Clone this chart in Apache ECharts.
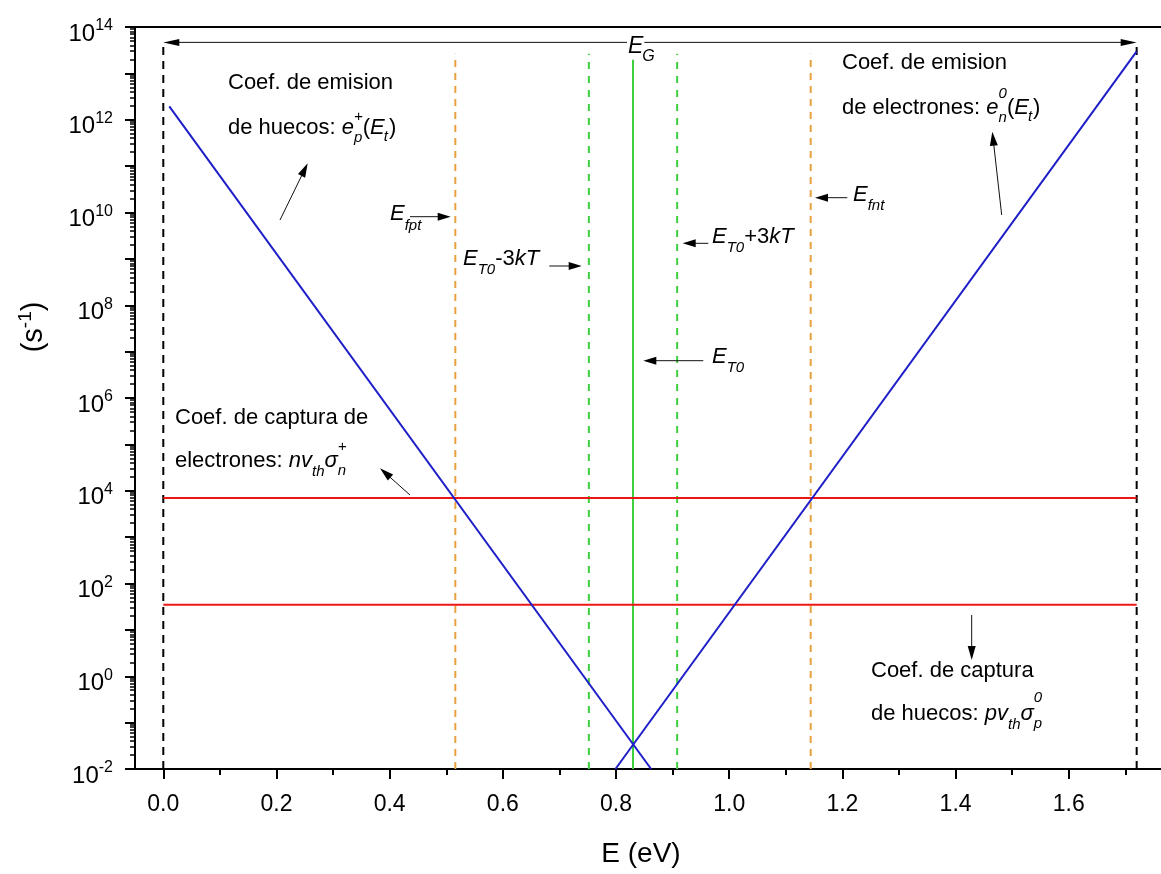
<!DOCTYPE html>
<html><head><meta charset="utf-8">
<script src="https://cdn.jsdelivr.net/npm/echarts@6/dist/echarts.min.js"></script>
<style>html,body{margin:0;padding:0;background:#fff}#c{width:1161px;height:874px}</style>
</head><body><div id="c"></div>
<script>
// ---------- data ----------
const xTicksMajor = [0, 0.2, 0.4, 0.6, 0.8, 1.0, 1.2, 1.4, 1.6];
const xTicksMinor = [0.1, 0.3, 0.5, 0.7, 0.9, 1.1, 1.3, 1.5, 1.7];
const yDecadeExps = [-2, -1, 0, 1, 2, 3, 4, 5, 6, 7, 8, 9, 10, 11, 12, 13, 14];
const yLabelExps = [-2, 0, 2, 4, 6, 8, 10, 12, 14];

const emisionHuecosE = [0.0106, 0.862];          // eV
const emisionHuecosR = [1.95e12, 1e-2];          // s^-1
const emisionElectronesE = [0.799, 1.72];
const emisionElectronesR = [1e-2, 2.97e13];
const capturaElectrones = 7.0e3;                 // n v_th sigma_n^+
const capturaHuecos = 35;                        // p v_th sigma_p^0
const bandEdges = [0, 1.72];                     // E_v, E_c  (E_G)
const fermiLevels = [0.516, 1.144];              // E_fpt, E_fnt
const trapBand = [0.752, 0.908];                 // E_T0 -/+ 3kT
const trapLevel = [0.83];                        // E_T0
const yBottom = 1e-2;
const egArrowLevel = 4.66e13;
const dashTopLevel = 2.65e13;
const trapTopLevel = 1.97e13;

const FONT = '"Liberation Sans", Arial, sans-serif';
const X_MIN = -0.05, X_MAX = 1.763;

function vline(e, top) { return [[e, yBottom], [e, top]]; }
function lineSeries(name, data, color, width, type, z) {
  return { name, type: 'line', xAxisIndex: 0, yAxisIndex: 0, data, showSymbol: false, symbol: 'none',
    lineStyle: { color, width, type }, z: z || 2, silent: true };
}

const series = [];
bandEdges.forEach((e, i) => series.push(lineSeries('band' + i, vline(e, egArrowLevel), '#000', 2, [8, 6], 1)));
fermiLevels.forEach((e, i) => series.push(lineSeries('fermi' + i, vline(e, dashTopLevel), '#E8A040', 2, [7, 6], 1)));
trapBand.forEach((e, i) => series.push(lineSeries('trapband' + i, vline(e, dashTopLevel), '#3DCF3D', 2, [7, 7], 1)));
trapLevel.forEach((e, i) => series.push(lineSeries('trap' + i, vline(e, trapTopLevel), '#3DCF3D', 2, 'solid', 1)));
series.push(lineSeries('capE', [[bandEdges[0], capturaElectrones], [bandEdges[1], capturaElectrones]], '#EE1515', 2, 'solid', 3));
series.push(lineSeries('capH', [[bandEdges[0], capturaHuecos], [bandEdges[1], capturaHuecos]], '#EE1515', 2, 'solid', 3));
series.push(lineSeries('emH', emisionHuecosE.map((e, i) => [e, emisionHuecosR[i]]), '#1E1EC8', 2, 'solid', 4));
series.push(lineSeries('emE', emisionElectronesE.map((e, i) => [e, emisionElectronesR[i]]), '#1E1EC8', 2, 'solid', 4));

const yMinorExps = [];
for (let n = -2; n < 14; n++) for (let k = 2; k <= 9; k++) yMinorExps.push(+(n + Math.log10(k)).toFixed(5));

const option = {
  animation: false,
  backgroundColor: '#fff',
  grid: { left: 135, right: 0, top: 27, bottom: 105, containLabel: false },
  xAxis: [
    { type: 'value', min: X_MIN, max: X_MAX, position: 'bottom',
      name: 'E (eV)', nameLocation: 'middle', nameGap: 71,
      nameTextStyle: { fontSize: 28, fontFamily: FONT, color: '#000', padding: [0, 14, 0, 0] },
      axisLine: { show: true, onZero: false, lineStyle: { color: '#000', width: 2 } },
      axisTick: { show: true, customValues: xTicksMajor, length: 10, lineStyle: { color: '#000', width: 2 } },
      axisLabel: { show: true, customValues: xTicksMajor, formatter: v => v.toFixed(1), fontSize: 23, fontFamily: FONT, color: '#000', margin: 24 },
      splitLine: { show: false } },
    { type: 'value', min: X_MIN, max: X_MAX, position: 'bottom',
      axisLine: { show: false, onZero: false },
      axisTick: { show: true, customValues: xTicksMinor, length: 6, lineStyle: { color: '#000', width: 2 } },
      axisLabel: { show: false }, splitLine: { show: false } },
    { type: 'value', min: X_MIN, max: X_MAX, position: 'top',
      axisLine: { show: true, onZero: false, lineStyle: { color: '#000', width: 2 } },
      axisTick: { show: false }, axisLabel: { show: false }, splitLine: { show: false } }
  ],
  yAxis: [
    { type: 'log', logBase: 10, min: 1e-2, max: 1e14, show: false,
      axisLine: { show: false }, axisTick: { show: false }, axisLabel: { show: false }, splitLine: { show: false } },
    { type: 'value', min: -2, max: 14, interval: 2, position: 'left',
      name: '{a|(s}{b|-1}{a|)}', nameLocation: 'middle', nameRotate: 90, nameGap: 87,
      nameTextStyle: { color: '#000', padding: [0, 0, 0, 142],
        rich: { a: { fontSize: 29, fontFamily: FONT, color: '#000', lineHeight: 32, verticalAlign: 'bottom' },
                b: { fontSize: 19, fontFamily: FONT, color: '#000', lineHeight: 19, verticalAlign: 'top' } } },
      axisLine: { show: true, onZero: false, lineStyle: { color: '#000', width: 2 } },
      axisTick: { show: true, customValues: yDecadeExps, length: 10, lineStyle: { color: '#000', width: 2 } },
      axisLabel: { show: true, customValues: yLabelExps, margin: 22, padding: [10, 0, 0, 0],
        formatter: v => '{b|10}{s|' + v + '}',
        rich: { b: { fontSize: 24, fontFamily: FONT, color: '#000', lineHeight: 28, verticalAlign: 'bottom' },
                s: { fontSize: 16, fontFamily: FONT, color: '#000', lineHeight: 14, verticalAlign: 'top' } } },
      splitLine: { show: false } },
    { type: 'value', min: -2, max: 14, position: 'left',
      axisLine: { show: false, onZero: false },
      axisTick: { show: true, customValues: yMinorExps, length: 5, lineStyle: { color: '#000', width: 1.5 } },
      axisLabel: { show: false }, splitLine: { show: false } }
  ],
  series
};

const chart = echarts.init(document.getElementById('c'), null, { renderer: 'canvas' });
chart.setOption(option);

// ---------- annotations ----------
const mctx = document.createElement('canvas').getContext('2d');
function fnt(r) { return (r.i ? 'italic ' : '') + (r.s || 22) + 'px ' + FONT; }
function tw(t, f) { mctx.font = f; return mctx.measureText(t).width; }
function textEl(x, y, t, f, bg) {
  const st = { text: t, font: f, fill: '#000', align: 'left', verticalAlign: 'middle' };
  if (bg) { st.backgroundColor = '#fff'; st.padding = [0, 1]; }
  return { type: 'text', x, y, z: 100, silent: true, style: st };
}
function runs(x, y, list) {
  let cx = x; const out = [];
  list.forEach(r => {
    if (r.stack) {
      let mw = 0;
      r.stack.forEach(p => { const f = fnt(p); out.push(textEl(cx + (p.dx || 0), y + (p.dy || 0), p.t, f)); mw = Math.max(mw, tw(p.t, f)); });
      cx += mw;
    } else {
      const f = fnt(r); out.push(textEl(cx + (r.dx || 0), y + (r.dy || 0), r.t, f, r.bg)); cx += tw(r.t, f) + (r.g || 0);
    }
  });
  return out;
}
function arrow(x1, y1, x2, y2, L, W) {
  L = L || 14; W = W || 8;
  const dx = x2 - x1, dy = y2 - y1, len = Math.hypot(dx, dy), ux = dx / len, uy = dy / len;
  const bx = x2 - ux * L, by = y2 - uy * L, nx = -uy, ny = ux;
  return [
    { type: 'line', z: 90, silent: true, shape: { x1, y1, x2: bx + ux * 2, y2: by + uy * 2 }, style: { stroke: '#111', lineWidth: 1 } },
    { type: 'polygon', z: 90, silent: true, shape: { points: [[x2, y2], [bx + nx * W / 2, by + ny * W / 2], [bx - nx * W / 2, by - ny * W / 2]] }, style: { fill: '#000' } }
  ];
}
const SUB = 15;
let g = [];
// Coef. de emision de huecos
g = g.concat(runs(228, 83, [{ t: 'Coef. de emision' }]));
g = g.concat(runs(228, 128, [{ t: 'de huecos: ' }, { t: 'e', i: true },
  { stack: [{ t: '+', i: true, s: SUB, dy: -11 }, { t: 'p', i: true, s: SUB, dy: 10 }] },
  { t: '(' }, { t: 'E', i: true }, { t: 't', i: true, s: SUB, dy: 9, dx: -1 }, { t: ')' }]));
g = g.concat(arrow(280, 220, 307.7, 163.3));
// Coef. de emision de electrones
g = g.concat(runs(842, 63, [{ t: 'Coef. de emision' }]));
g = g.concat(runs(842, 108, [{ t: 'de electrones: ' }, { t: 'e', i: true },
  { stack: [{ t: '0', i: true, s: SUB, dy: -14 }, { t: 'n', i: true, s: SUB, dy: 10 }] },
  { t: '(' }, { t: 'E', i: true }, { t: 't', i: true, s: SUB, dy: 9, dx: -1 }, { t: ')' }]));
g = g.concat(arrow(1001.7, 215, 992.3, 131.7));
// Coef. de captura de electrones
g = g.concat(runs(175, 418, [{ t: 'Coef. de captura de' }]));
g = g.concat(runs(175, 461, [{ t: 'electrones: ' }, { t: 'nv', i: true }, { t: 'th', i: true, s: SUB, dy: 11 },
  { t: 'σ', i: true }, { stack: [{ t: '+', i: true, s: SUB, dy: -14 }, { t: 'n', i: true, s: SUB, dy: 10 }] }]));
g = g.concat(arrow(410, 495, 380, 468.3));
// Coef. de captura de huecos
g = g.concat(runs(871, 671, [{ t: 'Coef. de captura' }]));
g = g.concat(runs(871, 714, [{ t: 'de huecos: ' }, { t: 'pv', i: true }, { t: 'th', i: true, s: SUB, dy: 11 },
  { t: 'σ', i: true }, { stack: [{ t: '0', i: true, s: SUB, dy: -16 }, { t: 'p', i: true, s: SUB, dy: 10 }] }]));
g = g.concat(arrow(971.7, 615, 971.7, 660));
// Energy level labels
g = g.concat(runs(390, 214, [{ t: 'E', i: true }, { t: 'fpt', i: true, s: SUB, dy: 12 }]));
g = g.concat(arrow(410, 216.7, 450.7, 216.7, 13, 8));
g = g.concat(runs(463, 259, [{ t: 'E', i: true }, { t: 'T0', i: true, s: SUB, dy: 11 }, { t: '-3' }, { t: 'kT', i: true }]));
g = g.concat(arrow(549.3, 266, 581.7, 266, 13, 8));
g = g.concat(runs(712, 237, [{ t: 'E', i: true }, { t: 'T0', i: true, s: SUB, dy: 11 }, { t: '+3' }, { t: 'kT', i: true }]));
g = g.concat(arrow(708.3, 243.3, 682.7, 243.3, 13, 8));
g = g.concat(runs(712, 357, [{ t: 'E', i: true }, { t: 'T0', i: true, s: SUB, dy: 11 }]));
g = g.concat(arrow(703.3, 360.7, 643.3, 360.7, 13, 8));
g = g.concat(runs(853, 195, [{ t: 'E', i: true }, { t: 'fnt', i: true, s: SUB, dy: 11 }]));
g = g.concat(arrow(847.3, 197.7, 815, 197.7, 13, 8));
// E_G double arrow between the band edges
const pL = chart.convertToPixel({ xAxisIndex: 0, yAxisIndex: 0 }, [bandEdges[0], egArrowLevel]);
const pR = chart.convertToPixel({ xAxisIndex: 0, yAxisIndex: 0 }, [bandEdges[1], egArrowLevel]);
const midX = (pL[0] + pR[0]) / 2;
g = g.concat(arrow(midX, pL[1], pL[0], pL[1], 16, 7));
g = g.concat(arrow(midX, pR[1], pR[0], pR[1], 16, 7));
g = g.concat(runs(627, 47, [{ t: 'E', i: true, s: 23, bg: true }, { t: 'G', i: true, s: SUB + 1, dy: 10 }]));

chart.setOption({ graphic: g });
</script>
</body></html>
